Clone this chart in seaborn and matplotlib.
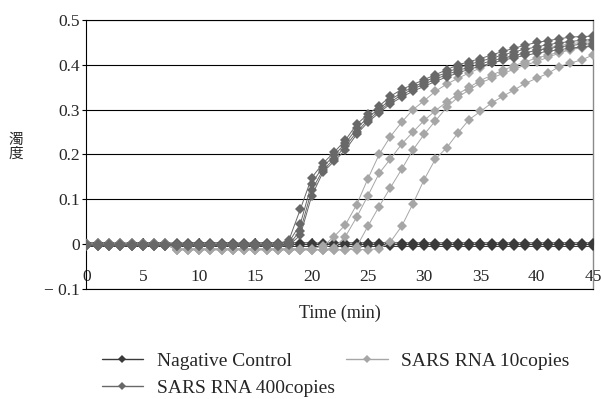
import matplotlib.pyplot as plt
import numpy as np
import pandas as pd
import seaborn as sns
from matplotlib.lines import Line2D

time_min = list(range(46))

# Nagative Control (3 wells)
nc_1 = [0.003, 0.003, 0.003, 0.002, 0.003, 0.003, 0.003, 0.003, 0.002, 0.003, 0.003, 0.003, 0.003, 0.003, 0.002, 0.003,
        0.003, 0.003, 0.003, 0.003, 0.003, 0.002, 0.003, 0.003, 0.003, 0.003, 0.003, 0.003, 0.003, 0.003, 0.003, 0.003,
        0.003, 0.003, 0.003, 0.003, 0.003, 0.003, 0.003, 0.003, 0.003, 0.003, 0.003, 0.003, 0.003, 0.003]
nc_2 = [0.0, 0.0, 0.0, 0.0, 0.0, 0.0, 0.0, 0.0, 0.0, 0.0, 0.0, 0.0, 0.0, 0.0, 0.0, 0.0,
        0.0, 0.0, 0.0, 0.0, 0.0, 0.0, 0.0, 0.0, 0.0, 0.0, 0.0, 0.0, 0.0, 0.0, 0.0, 0.0,
        0.0, 0.0, 0.0, 0.0, 0.0, 0.0, 0.0, 0.0, 0.0, 0.0, 0.0, 0.0, 0.0, 0.0]
nc_3 = [-0.005, -0.005, -0.005, -0.005, -0.005, -0.005, -0.005, -0.005, -0.005, -0.005, -0.005, -0.005, -0.005, -0.005, -0.005, -0.005,
        -0.005, -0.005, -0.005, -0.005, -0.005, -0.005, -0.005, -0.005, -0.005, -0.005, -0.005, -0.005, -0.005, -0.005, -0.005, -0.005,
        -0.005, -0.005, -0.005, -0.005, -0.005, -0.005, -0.005, -0.005, -0.005, -0.005, -0.005, -0.005, -0.005, -0.005]

# SARS RNA 10copies (4 wells)
c10_1 = [0.0, 0.0, 0.0, 0.0, 0.0, 0.0, 0.0, 0.0, -0.010, -0.010, -0.010, -0.010, -0.010, -0.010, -0.010, -0.010,
         -0.010, -0.010, -0.010, -0.010, -0.010, -0.005, 0.017, 0.043, 0.088, 0.146, 0.200, 0.240, 0.272, 0.300, 0.320, 0.341,
         0.357, 0.370, 0.382, 0.393, 0.403, 0.412, 0.420, 0.427, 0.433, 0.438, 0.443, 0.447, 0.450, 0.452]
c10_2 = [0.0, 0.0, 0.0, 0.0, 0.0, 0.0, 0.0, 0.0, -0.012, -0.012, -0.012, -0.012, -0.012, -0.012, -0.012, -0.012,
         -0.012, -0.012, -0.012, -0.012, -0.012, -0.012, -0.008, 0.017, 0.060, 0.108, 0.158, 0.190, 0.223, 0.250, 0.276, 0.298,
         0.317, 0.335, 0.350, 0.365, 0.377, 0.388, 0.398, 0.407, 0.415, 0.422, 0.428, 0.434, 0.438, 0.442]
c10_3 = [0.0, 0.0, 0.0, 0.0, 0.0, 0.0, 0.0, 0.0, -0.013, -0.013, -0.013, -0.013, -0.013, -0.013, -0.013, -0.013,
         -0.013, -0.013, -0.013, -0.013, -0.013, -0.013, -0.013, -0.013, -0.006, 0.040, 0.084, 0.126, 0.167, 0.210, 0.245, 0.275,
         0.305, 0.328, 0.344, 0.360, 0.370, 0.381, 0.390, 0.400, 0.407, 0.417, 0.426, 0.435, 0.440, 0.444]
c10_4 = [0.0, 0.0, 0.0, 0.0, 0.0, 0.0, 0.0, 0.0, -0.012, -0.012, -0.012, -0.012, -0.012, -0.012, -0.012, -0.012,
         -0.012, -0.012, -0.012, -0.012, -0.012, -0.012, -0.012, -0.012, -0.012, -0.012, -0.010, 0.005, 0.040, 0.090, 0.144, 0.190,
         0.215, 0.248, 0.278, 0.296, 0.315, 0.330, 0.344, 0.359, 0.370, 0.381, 0.396, 0.404, 0.411, 0.422]

# SARS RNA 400copies (4 wells)
c400_1 = [0.0, 0.0, 0.0, 0.0, 0.0, 0.0, 0.0, 0.0, 0.0, 0.0, 0.0, 0.0, 0.0, 0.0, 0.0, 0.0,
          0.0, 0.0, 0.010, 0.078, 0.148, 0.180, 0.205, 0.232, 0.267, 0.290, 0.308, 0.330, 0.345, 0.356, 0.367, 0.378,
          0.389, 0.400, 0.407, 0.414, 0.422, 0.430, 0.437, 0.444, 0.450, 0.454, 0.458, 0.462, 0.463, 0.464]
c400_2 = [0.0, 0.0, 0.0, 0.0, 0.0, 0.0, 0.0, 0.0, 0.0, 0.0, 0.0, 0.0, 0.0, 0.0, 0.0, 0.0,
          0.0, 0.0, 0.005, 0.045, 0.135, 0.172, 0.198, 0.225, 0.258, 0.283, 0.302, 0.322, 0.338, 0.350, 0.362, 0.373,
          0.383, 0.393, 0.401, 0.408, 0.415, 0.422, 0.429, 0.435, 0.440, 0.445, 0.449, 0.452, 0.455, 0.456]
c400_3 = [-0.003, -0.003, -0.003, -0.003, -0.003, -0.003, -0.003, -0.003, -0.003, -0.003, -0.003, -0.003, -0.003, -0.003, -0.003, -0.003,
          -0.003, -0.003, 0.0, 0.030, 0.120, 0.165, 0.190, 0.218, 0.250, 0.277, 0.297, 0.317, 0.333, 0.346, 0.357, 0.368,
          0.378, 0.387, 0.395, 0.402, 0.409, 0.415, 0.421, 0.427, 0.432, 0.436, 0.440, 0.443, 0.446, 0.447]
c400_4 = [-0.003, -0.003, -0.003, -0.003, -0.003, -0.003, -0.003, -0.003, -0.003, -0.003, -0.003, -0.003, -0.003, -0.003, -0.003, -0.003,
          -0.003, -0.003, -0.002, 0.020, 0.107, 0.160, 0.185, 0.210, 0.245, 0.272, 0.293, 0.313, 0.328, 0.341, 0.352, 0.363,
          0.373, 0.382, 0.390, 0.397, 0.404, 0.410, 0.416, 0.421, 0.426, 0.430, 0.434, 0.437, 0.440, 0.441]

GROUPS = {
    "Nagative Control": [nc_1, nc_2, nc_3],
    "SARS RNA 10copies": [c10_1, c10_2, c10_3, c10_4],
    "SARS RNA 400copies": [c400_1, c400_2, c400_3, c400_4],
}
COLORS = {"Nagative Control": "#3a3a3a", "SARS RNA 10copies": "#a6a6a6", "SARS RNA 400copies": "#686868"}

y_ticks = [-0.1, 0, 0.1, 0.2, 0.3, 0.4, 0.5]
y_labels = ["\u2212 0.1", "0", "0.1", "0.2", "0.3", "0.4", "0.5"]
x_ticks = [0, 5, 10, 15, 20, 25, 30, 35, 40, 45]

rows = []
for g, reps in GROUPS.items():
    for i, vals in enumerate(reps):
        for t, v in zip(time_min, vals):
            rows.append((g, i, t, v))
df = pd.DataFrame(rows, columns=["group", "rep", "time", "turbidity"])

sns.set_style("white")
plt.rcParams["font.family"] = ["Liberation Serif", "Noto Sans CJK JP"]

fig = plt.figure(figsize=(6.01, 3.99), dpi=100)
ax = fig.add_axes([0.1439, 0.2757, 0.8428, 0.6742])

for z, g in enumerate(["Nagative Control", "SARS RNA 10copies", "SARS RNA 400copies"]):
    sns.lineplot(data=df[df.group == g], x="time", y="turbidity", units="rep", estimator=None,
                 color=COLORS[g], lw=0.7, marker="D", markersize=4.8, markeredgewidth=0,
                 legend=False, ax=ax, zorder=3 + z)

ax.set_xlim(0, 45)
ax.set_ylim(-0.1, 0.5)
ax.set_yticks(y_ticks)
ax.set_yticklabels(y_labels, fontsize=12.5)
ax.yaxis.grid(True, color="black", lw=0.8)
ax.set_axisbelow(True)
ax.tick_params(axis="y", left=True, length=3, width=0.8, pad=2, color="black")
ax.set_xticks([])
ax.set_xlabel("")
ax.set_ylabel("")
for s in ["left", "bottom", "top"]:
    ax.spines[s].set_color("black")
    ax.spines[s].set_linewidth(0.8)
ax.spines["right"].set_color("#8a8a8a")
ax.spines["right"].set_linewidth(1.0)

# x axis drawn at turbidity 0
sec = ax.secondary_xaxis(1 / 6)
sec.set_xticks(x_ticks)
sec.set_xticklabels([str(x) for x in x_ticks], fontsize=12.5)
sec.tick_params(direction="in", length=4, width=0.8, pad=18, color="black")
sec.spines["bottom"].set_color("black")
sec.spines["bottom"].set_linewidth(0.8)

fig.text(0.565, 0.2155, "Time (min)", ha="center", va="center", fontsize=13)
fig.text(0.027, 0.632, "濁\n度", ha="center", va="center", fontsize=10.5,
         family=["Noto Sans CJK JP"], linespacing=1.05)

order = ["Nagative Control", "SARS RNA 400copies", "SARS RNA 10copies"]
handles = [Line2D([], [], color=COLORS[g], lw=1.0, marker="D", markersize=4, markeredgewidth=0) for g in order]
fig.legend(handles, order, ncol=2, loc="upper left", bbox_to_anchor=(0.169, 0.117), frameon=False,
           fontsize=14, handlelength=2.14, handletextpad=0.69, columnspacing=0.6, labelspacing=0.5,
           borderaxespad=0, borderpad=0)

fig.savefig("out.png", dpi=100)
